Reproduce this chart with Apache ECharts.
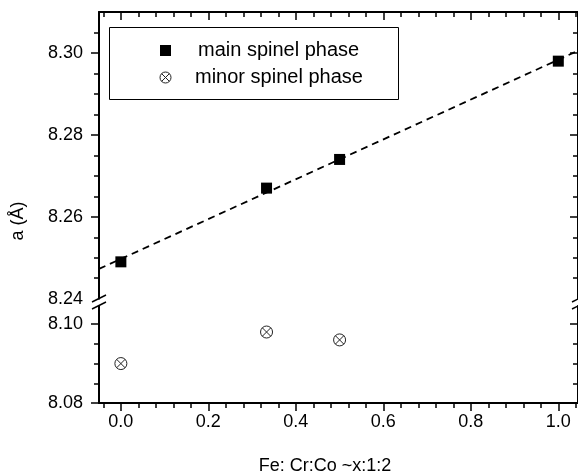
<!DOCTYPE html>
<html><head><meta charset="utf-8">
<script src="https://cdn.jsdelivr.net/npm/echarts@6/dist/echarts.min.js"></script>
<style>html,body{margin:0;padding:0;background:#fff}#c{width:578px;height:475px}</style>
</head><body><div id="c"></div>
<script>
// ---- data ----
const xMain = [0, 0.333, 0.5, 1.0];
const yMain = [8.249, 8.267, 8.274, 8.298];
const xMinor = [0, 0.333, 0.5];
const yMinor = [8.090, 8.098, 8.096];
const seriesNames = ['main spinel phase', 'minor spinel phase'];
const xTickValues = [0, 0.2, 0.4, 0.6, 0.8, 1.0];
const yUpperTickValues = [8.26, 8.28, 8.30];
const yUpperLabelValues = [8.24, 8.26, 8.28, 8.30];
const yLowerTickValues = [8.08, 8.10];
const yLowerLabelValues = [8.08, 8.10];
const xName = 'Fe: Cr:Co ~x:1:2';
const yName = 'a (Å)';

// ---- ranges ----
const X_MIN = -0.05, X_MAX = 1.045;
const YU_MIN = 8.24, YU_MAX = 8.31;
const YL_MIN = 8.08, YL_MAX = 8.1046;

// minor tick positions
const xMinorTicks = [];
for (let k = -1; k <= 26; k++) { if (k % 5 !== 0) xMinorTicks.push(Number((k * 0.04).toFixed(3))); }
const yUpperMinor = [];
for (let k = 1; k <= 13; k++) { if (k % 4 !== 0) yUpperMinor.push(Number((8.24 + k * 0.005).toFixed(3))); }
const yLowerMinor = [8.085, 8.09, 8.095];

// linear fit of main phase
const n = xMain.length;
const mx = xMain.reduce((a, b) => a + b, 0) / n;
const my = yMain.reduce((a, b) => a + b, 0) / n;
let sxx = 0, sxy = 0;
for (let i = 0; i < n; i++) { sxx += (xMain[i] - mx) ** 2; sxy += (xMain[i] - mx) * (yMain[i] - my); }
const slope = sxy / sxx, icpt = my - slope * mx;
const fitLine = [[X_MIN, icpt + slope * X_MIN], [X_MAX, icpt + slope * X_MAX]];

const FONT = 'Liberation Sans, Arial, Helvetica, sans-serif';
const lab = { color: '#000', fontSize: 18, fontFamily: FONT };

function xAx(gi, pos, vals, len, inside, line, label) {
  return {
    type: 'value', gridIndex: gi, position: pos, min: X_MIN, max: X_MAX,
    axisLine: { show: line, onZero: false, lineStyle: { color: '#000', width: 2 } },
    axisTick: { show: true, inside: inside, length: len, customValues: vals, lineStyle: { color: '#000', width: 1.5 } },
    axisLabel: Object.assign({ show: label, customValues: vals, margin: 10, formatter: v => Number(v).toFixed(1) }, lab),
    splitLine: { show: false }, minorTick: { show: false }
  };
}
function yAx(gi, pos, mn, mx2, vals, labVals, len, inside, line, label) {
  return {
    type: 'value', gridIndex: gi, position: pos, min: mn, max: mx2, scale: true,
    axisLine: { show: line, onZero: false, lineStyle: { color: '#000', width: 2 } },
    axisTick: { show: true, inside: inside, length: len, customValues: vals, lineStyle: { color: '#000', width: 1.5 } },
    axisLabel: Object.assign({ show: label, customValues: labVals || vals, margin: 16, formatter: v => Number(v).toFixed(2) }, lab),
    splitLine: { show: false }
  };
}

const symCX = 'path://M12,2 A10,10 0 1 1 11.99,2 Z M4.93,4.93 L19.07,19.07 M19.07,4.93 L4.93,19.07';

const chart = echarts.init(document.getElementById('c'), null, { renderer: 'canvas' });
chart.setOption({
  backgroundColor: '#fff',
  animation: false,
  grid: [
    { left: 99, top: 12, width: 480, height: 286.7, containLabel: false },
    { left: 99, top: 306, width: 480, height: 97, containLabel: false }
  ],
  xAxis: [
    xAx(0, 'top', xTickValues, 8, true, true, false),
    xAx(0, 'top', xMinorTicks, 5, true, false, false),
    xAx(1, 'bottom', xTickValues, 8, false, true, true),
    xAx(1, 'bottom', xMinorTicks, 5, false, false, false)
  ],
  yAxis: [
    yAx(0, 'left', YU_MIN, YU_MAX, yUpperTickValues, yUpperLabelValues, 8, false, true, true),
    yAx(0, 'left', YU_MIN, YU_MAX, yUpperMinor, null, 5, false, false, false),
    yAx(0, 'right', YU_MIN, YU_MAX, yUpperTickValues, null, 8, true, true, false),
    yAx(0, 'right', YU_MIN, YU_MAX, yUpperMinor, null, 5, true, false, false),
    yAx(1, 'left', YL_MIN, YL_MAX, yLowerTickValues, yLowerLabelValues, 8, false, true, true),
    yAx(1, 'left', YL_MIN, YL_MAX, yLowerMinor, null, 5, false, false, false),
    yAx(1, 'right', YL_MIN, YL_MAX, yLowerTickValues, null, 8, true, true, false),
    yAx(1, 'right', YL_MIN, YL_MAX, yLowerMinor, null, 5, true, false, false)
  ],
  series: [
    {
      type: 'line', name: 'fit', xAxisIndex: 0, yAxisIndex: 0, data: fitLine, showSymbol: false, silent: true,
      lineStyle: { color: '#000', width: 1.8, type: [7, 5] }, z: 2
    },
    {
      type: 'scatter', name: seriesNames[0], xAxisIndex: 0, yAxisIndex: 0,
      data: xMain.map((x, i) => [x, yMain[i]]), symbol: 'rect', symbolSize: 11,
      itemStyle: { color: '#000', opacity: 1 }, z: 3
    },
    {
      type: 'scatter', name: seriesNames[1], xAxisIndex: 2, yAxisIndex: 4,
      data: xMinor.map((x, i) => [x, yMinor[i]]), symbol: symCX, symbolSize: 12,
      itemStyle: { color: 'rgba(0,0,0,0)', borderColor: '#222', borderWidth: 1, opacity: 1 }, z: 3
    }
  ],
  graphic: [
    { type: 'rect', shape: { x: 109.5, y: 27.5, width: 289, height: 72 }, style: { fill: 'none', stroke: '#000', lineWidth: 1 }, z: 10 },
    { type: 'rect', shape: { x: 160, y: 45, width: 11, height: 11 }, style: { fill: '#000' }, z: 10 },
    { type: 'circle', shape: { cx: 165.5, cy: 77.5, r: 5.5 }, style: { fill: 'none', stroke: '#222', lineWidth: 1 }, z: 10 },
    { type: 'line', shape: { x1: 161.6, y1: 73.6, x2: 169.4, y2: 81.4 }, style: { stroke: '#222', lineWidth: 1 }, z: 10 },
    { type: 'line', shape: { x1: 169.4, y1: 73.6, x2: 161.6, y2: 81.4 }, style: { stroke: '#222', lineWidth: 1 }, z: 10 },
    { type: 'text', x: 198, y: 50, style: { text: seriesNames[0], font: '20px ' + FONT, fill: '#000', textVerticalAlign: 'middle' }, z: 10 },
    { type: 'text', x: 195, y: 77, style: { text: seriesNames[1], font: '20px ' + FONT, fill: '#000', textVerticalAlign: 'middle' }, z: 10 },
    // axis break marks
    { type: 'line', shape: { x1: 92, y1: 302, x2: 106, y2: 295 }, style: { stroke: '#000', lineWidth: 1.5 }, z: 10 },
    { type: 'line', shape: { x1: 92, y1: 309, x2: 106, y2: 302 }, style: { stroke: '#000', lineWidth: 1.5 }, z: 10 },
    { type: 'line', shape: { x1: 572, y1: 302, x2: 580, y2: 298 }, style: { stroke: '#000', lineWidth: 1.5 }, z: 10 },
    { type: 'line', shape: { x1: 572, y1: 309, x2: 580, y2: 305 }, style: { stroke: '#000', lineWidth: 1.5 }, z: 10 },
    // axis names
    { type: 'text', x: 325, y: 466, style: { text: xName, font: '18px ' + FONT, fill: '#000', textAlign: 'center', textVerticalAlign: 'middle' }, z: 10 },
    { type: 'text', x: 18, y: 221, rotation: Math.PI / 2, style: { text: yName, font: '18px ' + FONT, fill: '#000', textAlign: 'center', textVerticalAlign: 'middle' }, z: 10 }
  ]
});
</script></body></html>
